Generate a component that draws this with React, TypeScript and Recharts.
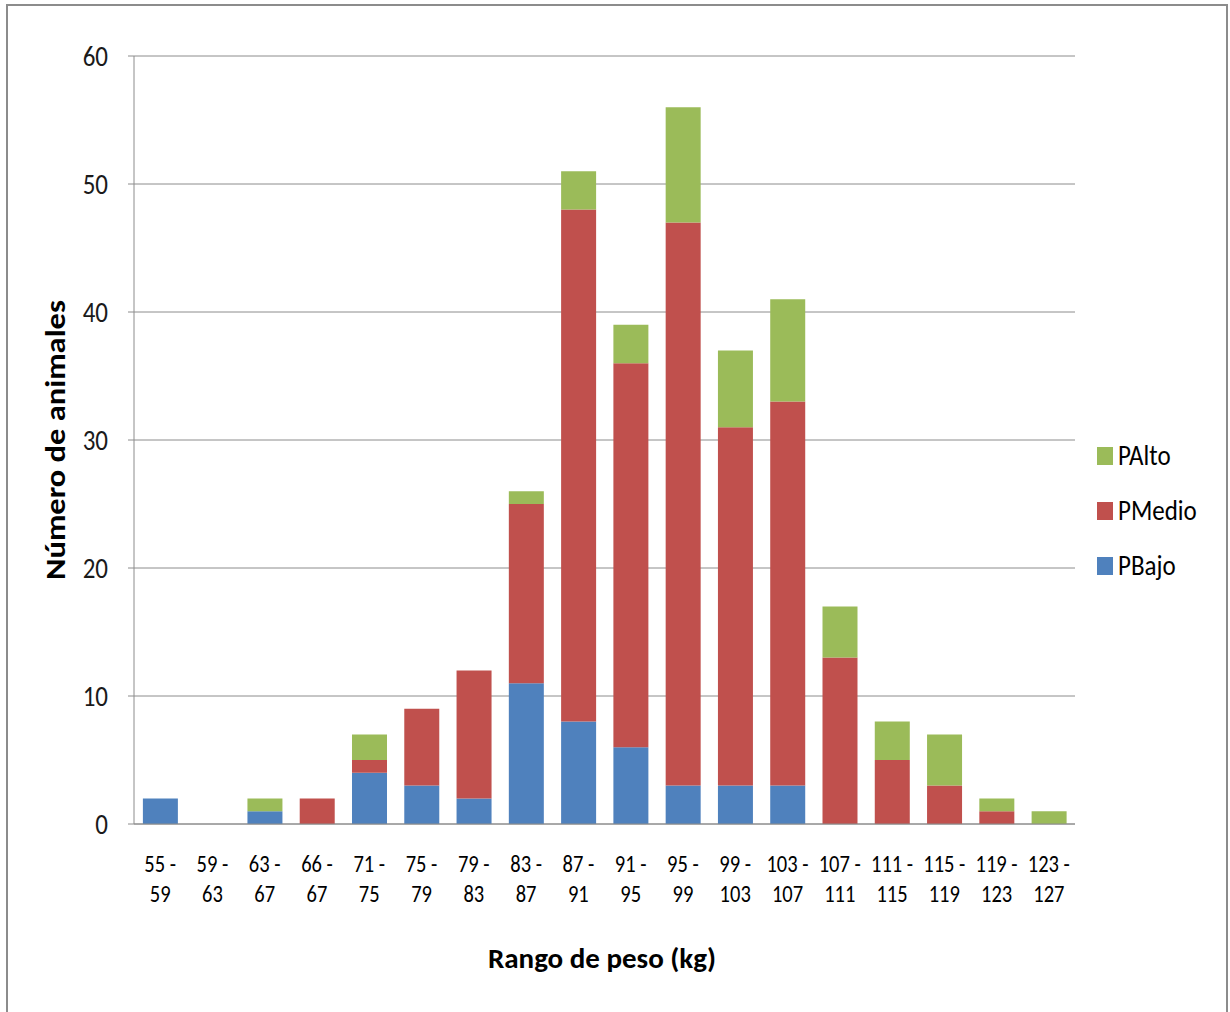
import React from "react";
import { BarChart, Bar, XAxis, YAxis, CartesianGrid } from "recharts";

const rangos = [
  "55 - 59", "59 - 63", "63 - 67", "66 - 67", "71 - 75", "75 - 79",
  "79 - 83", "83 - 87", "87 - 91", "91 - 95", "95 - 99", "99 - 103",
  "103 - 107", "107 - 111", "111 - 115", "115 - 119", "119 - 123", "123 - 127",
];
const pBajo = [2, 0, 1, 0, 4, 3, 2, 11, 8, 6, 3, 3, 3, 0, 0, 0, 0, 0];
const pMedio = [0, 0, 0, 2, 1, 6, 10, 14, 40, 30, 44, 28, 30, 13, 5, 3, 1, 0];
const pAlto = [0, 0, 1, 0, 2, 0, 0, 1, 3, 3, 9, 6, 8, 4, 3, 4, 1, 1];
const yTicks = [0, 10, 20, 30, 40, 50, 60];

const data = rangos.map((r, i) => ({
  rango: r,
  PBajo: pBajo[i],
  PMedio: pMedio[i],
  PAlto: pAlto[i],
}));

const FONT = "Carlito, 'Liberation Sans Narrow', 'Open Sans', sans-serif";
// text in this figure is slightly taller than wide
const STRETCH = 1.16;

// legend order runs top-down from the top of the stack
const series = [
  { key: "PAlto", color: "#9BBB59" },
  { key: "PMedio", color: "#C0504D" },
  { key: "PBajo", color: "#4F81BD" },
];

const RangoTick = (props: any) => {
  const { x, y, payload } = props;
  const [a, b] = String(payload.value).split(" - ");
  return (
    <text
      transform={`translate(${x},${y}) scale(1,${STRETCH})`}
      textAnchor="middle"
      fontFamily={FONT}
      fontSize={20.5}
      fill="#000"
    >
      <tspan x={0} y={34.5}>{a} -</tspan>
      <tspan x={0} y={60.3}>{b}</tspan>
    </text>
  );
};

const CountTick = (props: any) => {
  const { x, y, payload } = props;
  return (
    <text
      transform={`translate(${x},${y}) scale(1,${STRETCH})`}
      textAnchor="end"
      dy="0.36em"
      fontFamily={FONT}
      fontSize={25}
      fill="#1a1a1a"
    >
      {payload.value}
    </text>
  );
};

export default function App() {
  return (
    <div
      style={{
        position: "absolute",
        left: 0,
        top: 0,
        width: 1230,
        height: 1012,
        background: "#fff",
        overflow: "hidden",
      }}
    >
      <div
        style={{
          position: "absolute",
          left: 6,
          top: 4,
          width: 1218,
          height: 1020,
          border: "2px solid #8c8c8c",
        }}
      />
      <BarChart
        width={1230}
        height={1012}
        data={data}
        margin={{ top: 56, right: 155, left: 74, bottom: 118 }}
        barCategoryGap="17%"
      >
        <CartesianGrid vertical={false} stroke="#8c8c8c" />
        <XAxis
          dataKey="rango"
          height={70}
          interval={0}
          tickLine={false}
          stroke="#8c8c8c"
          tick={<RangoTick />}
        />
        <YAxis
          width={60}
          domain={[0, 60]}
          ticks={yTicks}
          stroke="#8c8c8c"
          tickSize={6}
          tickMargin={20}
          tick={<CountTick />}
        />
        <Bar dataKey="PBajo" stackId="a" fill="#4F81BD" isAnimationActive={false} />
        <Bar dataKey="PMedio" stackId="a" fill="#C0504D" isAnimationActive={false} />
        <Bar dataKey="PAlto" stackId="a" fill="#9BBB59" isAnimationActive={false} />
      </BarChart>
      <div
        style={{
          position: "absolute",
          left: 1097,
          top: 428,
          fontFamily: FONT,
          fontSize: 25,
          color: "#000",
        }}
      >
        {series.map((s) => (
          <div key={s.key} style={{ display: "flex", alignItems: "center", height: 55 }}>
            <span
              style={{
                width: 16,
                height: 18,
                background: s.color,
                marginRight: 5,
                display: "inline-block",
              }}
            />
            <span style={{ display: "inline-block", transform: `scale(1,${STRETCH})` }}>{s.key}</span>
          </div>
        ))}
      </div>
      <div
        style={{
          position: "absolute",
          left: 55,
          top: 440,
          transform: `translate(-50%, -50%) scale(1,${STRETCH}) rotate(-90deg)`,
          whiteSpace: "nowrap",
          fontFamily: FONT,
          fontSize: 28,
          fontWeight: "bold",
        }}
      >
        Número de animales
      </div>
      <div
        style={{
          position: "absolute",
          left: 602,
          top: 958,
          transform: "translate(-50%, -50%)",
          whiteSpace: "nowrap",
          fontFamily: FONT,
          fontSize: 29,
          fontWeight: "bold",
        }}
      >
        Rango de peso (kg)
      </div>
    </div>
  );
}
